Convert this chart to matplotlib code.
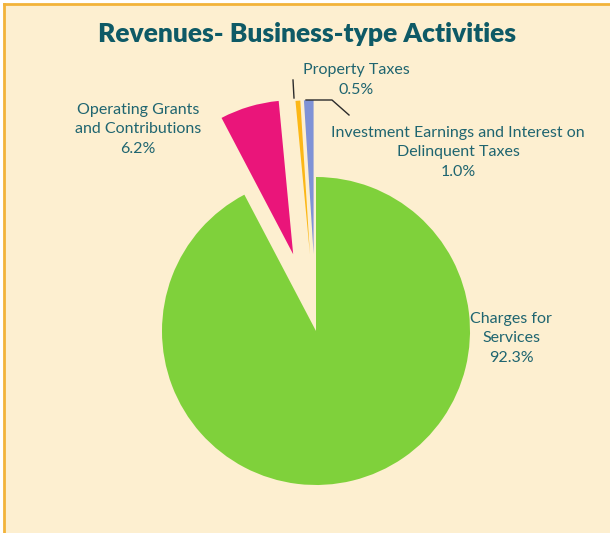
import matplotlib
matplotlib.use('Agg')
import matplotlib.pyplot as plt
from matplotlib.patches import Rectangle
from matplotlib.lines import Line2D

# Revenue shares (percent), clockwise from 12 o'clock
categories = [
    'Charges for\nServices',
    'Operating Grants\nand Contributions',
    'Property Taxes',
    'Investment Earnings and Interest on\nDelinquent Taxes',
]
shares = [92.3, 6.2, 0.5, 1.0]
colors = ['#7fd13b', '#ea157a', '#fcb716', '#7f92d6']
explode = [0.0, 0.52, 0.5, 0.5]

BG = '#fdefd0'
BORDER = '#f2b33a'
TITLE_COLOR = '#0e5a66'
LABEL_COLOR = '#1f6570'

W, H = 610, 533
fig = plt.figure(figsize=(W / 100, H / 100), dpi=100, facecolor='white')

# cream panel with a gold rule on the left and top
fig.patches.append(Rectangle((4 / W, 0), 1, (H - 4) / H, transform=fig.transFigure,
                             facecolor=BG, edgecolor='none', zorder=-10))
fig.lines.append(Line2D([4 / W, 4 / W], [0, (H - 4) / H], transform=fig.transFigure,
                        color=BORDER, linewidth=2, zorder=-5))
fig.lines.append(Line2D([4 / W, 1], [(H - 4) / H, (H - 4) / H], transform=fig.transFigure,
                        color=BORDER, linewidth=2, zorder=-5))

fig.text(307 / W, 1 - 34 / H, 'Revenues- Business-type Activities', ha='center', va='center',
         fontsize=19, fontweight='heavy', family='Lato', color=TITLE_COLOR)

# axes sized so that one data unit is the pie radius
cx, cy, r = 316, 331, 154
span = 2.2
ax = fig.add_axes([(cx - span * r) / W, (H - cy - span * r) / H,
                   2 * span * r / W, 2 * span * r / H])
ax.patch.set_visible(False)

ax.pie(shares, colors=colors, explode=explode, startangle=90, counterclock=False,
       radius=1, wedgeprops=dict(linewidth=0))
ax.set_xlim(-span, span)
ax.set_ylim(-span, span)
ax.set_aspect('equal')
ax.axis('off')


def to_data(px, py):
    return (px - cx) / r, (cy - py) / r


def label(px, py, name, value):
    x, y = to_data(px, py)
    ax.text(x, y, f'{name}\n{value:.1f}%', ha='center', va='center', fontsize=11.5,
            family='Lato', color=LABEL_COLOR, linespacing=1.5)


label(511, 338, categories[0], shares[0])
label(138, 129, categories[1], shares[1])
label(356, 80, categories[2], shares[2])
label(458, 152, categories[3], shares[3])

# leader lines for the two thin slices
lx, ly = zip(*[to_data(293, 80), to_data(294, 98)])
ax.plot(lx, ly, color='#2b2b2b', linewidth=1)
lx, ly = zip(*[to_data(306, 100), to_data(332, 100), to_data(349, 115)])
ax.plot(lx, ly, color='#2b2b2b', linewidth=1)

fig.savefig('out.png', dpi=100, facecolor='white')
